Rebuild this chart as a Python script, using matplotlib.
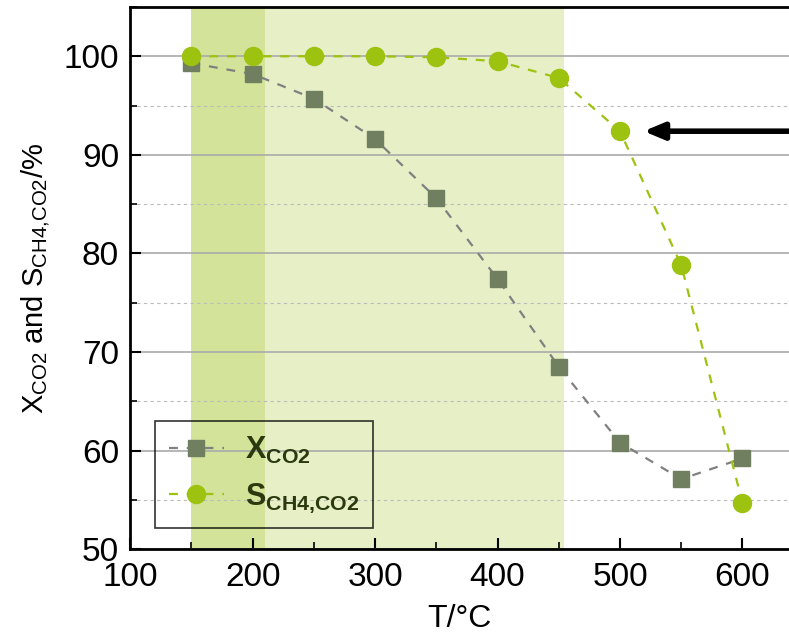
import matplotlib
matplotlib.use("Agg")
import matplotlib.pyplot as plt
from matplotlib.ticker import MultipleLocator

# temperatures and measured values
temps = [150, 200, 250, 300, 350, 400, 450, 500, 550, 600]
x_co2 = [99.3, 98.2, 95.7, 91.6, 85.6, 77.4, 68.5, 60.8, 57.1, 59.2]
s_ch4 = [100.0, 100.0, 100.0, 100.0, 99.9, 99.5, 97.8, 92.4, 78.8, 54.7]

# shaded temperature windows
light_span = (150, 454)
dark_span = (150, 210)

plt.rcParams['font.family'] = ['Liberation Sans', 'DejaVu Sans']
plt.rcParams['mathtext.fontset'] = 'custom'
plt.rcParams['mathtext.rm'] = 'Liberation Sans'
plt.rcParams['mathtext.bf'] = 'Liberation Sans:bold'

fig = plt.figure(figsize=(7.89, 6.37), dpi=100)
ax = fig.add_axes([0.165, 0.138, 0.835, 0.851])

ax.axvspan(*light_span, color="#e6efc6", zorder=0, lw=0)
ax.axvspan(*dark_span, color="#d3e39a", zorder=0.5, lw=0)

# grid
ax.yaxis.set_major_locator(MultipleLocator(10))
ax.yaxis.set_minor_locator(MultipleLocator(5))
ax.xaxis.set_major_locator(MultipleLocator(100))
ax.xaxis.set_minor_locator(MultipleLocator(50))
ax.grid(True, which="major", axis="y", color="#aaaaaa", lw=1.2, zorder=1)
ax.grid(True, which="minor", axis="y", color="#bbbbbb", lw=0.8, ls=(0, (3, 3)), zorder=1)
ax.set_axisbelow(True)

ax.plot(temps, x_co2, ls=(0, (4, 4)), color="#808080", lw=1.6,
        marker="s", ms=12, mfc="#6f7f5f", mec="#6f7f5f",
        label=r"X$_{\mathbf{CO2}}$", zorder=3)
ax.plot(temps, s_ch4, ls=(0, (4, 4)), color="#9dc20f", lw=1.6,
        marker="o", ms=13, mfc="#9dc20f", mec="#9dc20f",
        label=r"S$_{\mathbf{CH4{,}CO2}}$", zorder=4)

# arrow pointing at 500 °C point
ax.annotate("", xy=(517, 92.4), xytext=(640, 92.4),
            arrowprops=dict(arrowstyle="-|>,head_length=1.2,head_width=0.5", color="black", lw=4))

ax.set_xlim(100, 638)
ax.set_ylim(50, 105)

ax.tick_params(which="major", direction="in", length=8, width=1.5, labelsize=24)
ax.tick_params(axis="x", pad=9)
ax.tick_params(axis="y", pad=8)
ax.tick_params(which="minor", direction="in", length=5, width=1.2)
ax.tick_params(axis="y", which="both", right=False)
for sp in ax.spines.values():
    sp.set_linewidth(2)
ax.spines["right"].set_visible(False)

ax.set_xlabel("T/°C", fontsize=23, labelpad=8)
ax.set_ylabel(r"X$_{\mathrm{CO2}}$ and S$_{\mathrm{CH4{,}CO2}}$/%", fontsize=21, labelpad=8)

leg = ax.legend(loc="lower left", bbox_to_anchor=(0.038, 0.038), borderaxespad=0,
                prop={"size": 22, "weight": "bold"},
                frameon=True, fancybox=False, edgecolor="black", facecolor="none",
                handlelength=1.8, handletextpad=0.7, borderpad=0.45, labelspacing=0.5)
leg.get_frame().set_linewidth(1.2)
for t in leg.get_texts():
    t.set_color("#2b3a0e")
leg.set_zorder(5)

fig.savefig("out.png", dpi=100)
